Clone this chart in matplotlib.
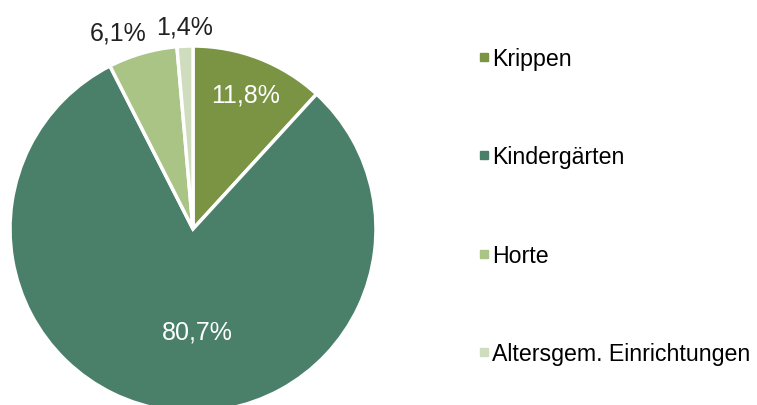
import numpy as np
import matplotlib.pyplot as plt
from matplotlib.lines import Line2D

plt.rcParams['font.family'] = ['Liberation Sans', 'DejaVu Sans']

# Daten
labels = ['Krippen', 'Kindergärten', 'Horte', 'Altersgem. Einrichtungen']
values = [11.8, 80.7, 6.1, 1.4]
value_texts = ['11,8%', '80,7%', '6,1%', '1,4%']
colors = ['#7a9444', '#4a806a', '#a9c485', '#cfdcbe']
text_colors = ['white', 'white', '#222222', '#222222']
label_dist = [0.79, 0.56, 1.15, 1.11]
label_shift = [0, 10, 4.8, 0]  # Grad

fig = plt.figure(figsize=(7.57, 4.06), dpi=100)
ax = fig.add_axes([0, 0, 1, 1])

# Mittelpunkt und Radius in Pixeln
cx, cy, r = 193, 406 - 230, 183
wedges, _ = ax.pie(values, colors=colors, startangle=90, counterclock=False,
                   center=(cx, cy), radius=r,
                   wedgeprops=dict(edgecolor='white', linewidth=2.5))

# Beschriftungen
for w, t, c, d, s in zip(wedges, value_texts, text_colors, label_dist, label_shift):
    ang = np.deg2rad((w.theta1 + w.theta2) / 2 + s)
    ax.text(cx + d * r * np.cos(ang), cy + d * r * np.sin(ang), t,
            ha='center', va='center', fontsize=18, color=c)

ax.set_xlim(0, 757)
ax.set_ylim(0, 406)
ax.set_aspect('equal')
ax.axis('off')

handles = [Line2D([], [], marker='s', linestyle='none', markersize=6,
                  markerfacecolor=col, markeredgecolor=col) for col in colors]
ax.legend(handles, labels, loc='upper left', bbox_to_anchor=(0.633, 0.882),
          frameon=False, fontsize=16.7, labelspacing=3.25, handlelength=0.4,
          handletextpad=0.15, borderaxespad=0, borderpad=0)

fig.savefig('out.png', dpi=100)
